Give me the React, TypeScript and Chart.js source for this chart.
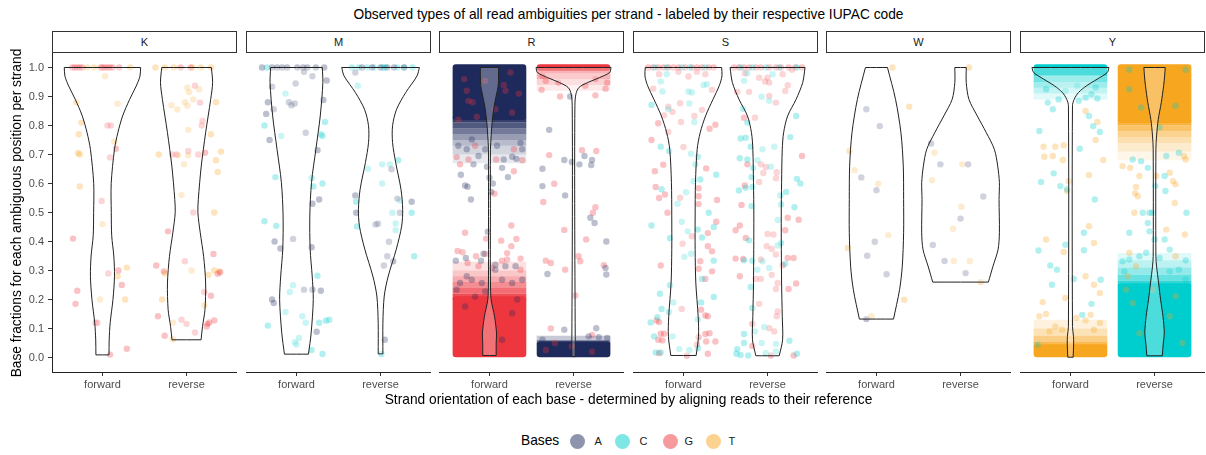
import React, { useEffect, useRef } from 'react';
import { Chart, registerables } from 'chart.js';
Chart.register(...registerables);

type Pt = [number, number];
type Band = [number, number, number]; // low, high, density (0..1)

// ---------------- text ----------------
const TITLE = 'Observed types of all read ambiguities per strand - labeled by their respective IUPAC code';
const X_TITLE = 'Strand orientation of each base - determined by aligning reads to their reference';
const Y_TITLE = 'Base fractions for each ambiguous position per strand';
const LEGEND_TITLE = 'Bases';
const FACETS = ['K', 'M', 'R', 'S', 'W', 'Y'];
const STRANDS = ['forward', 'reverse'];
const Y_TICKS = [0, 0.1, 0.2, 0.3, 0.4, 0.5, 0.6, 0.7, 0.8, 0.9, 1.0];
const BASES = ['A', 'C', 'G', 'T'];
const BASE_RGB: Record<string, [number, number, number]> = {
  A: [31, 42, 92],
  C: [0, 205, 205],
  G: [238, 54, 62],
  T: [247, 166, 32],
};

// ---------------- jittered points [x, fraction] ----------------
const K_FWD_G: Pt[] = [[0.64,1],[0.67,1],[0.70,1],[0.73,1],[0.76,1],[0.98,1],[1.0,1],[1.03,1],[1.06,1],[1.09,1],[1.12,1],[1.20,1],[1.06,0.80],[1.10,0.80],[1.16,0.72],[1.09,0.69],[0.99,0.54],[0.65,0.41],[1.19,0.30],[1.07,0.29],[1.23,0.25],[0.70,0.23],[0.68,0.185],[0.92,0.12],[0.94,0.12],[1.29,0.03],[1.09,0.01]];
const K_FWD_T: Pt[] = [[0.82,1],[0.90,1],[1.33,1],[1.03,0.97],[0.69,0.88],[1.18,0.875],[0.75,0.81],[0.72,0.77],[1.14,0.745],[0.71,0.705],[0.73,0.70],[0.73,0.59],[1.00,0.46],[1.29,0.31],[1.18,0.28],[0.97,0.20],[1.27,0.20]];
const K_REV_G: Pt[] = [[1.93,1],[2.05,1],[2.10,0.937],[2.16,0.879],[2.19,0.816],[2.18,0.80],[1.83,0.70],[1.88,0.70],[2.14,0.70],[2.22,0.706],[2.02,0.712],[2.08,0.50],[1.78,0.435],[2.32,0.357],[1.64,0.317],[1.98,0.332],[1.73,0.297],[2.37,0.289],[2.40,0.294],[2.21,0.226],[2.29,0.213],[1.66,0.142],[1.94,0.13],[2.0,0.116],[2.25,0.116],[2.27,0.121],[2.24,0.107],[2.33,0.128],[1.74,0.075],[2.10,0.086]];
const K_REV_T: Pt[] = [[1.63,1],[1.74,1],[1.85,1],[2.07,1],[2.17,1],[2.29,1],[2.01,0.93],[2.03,0.915],[2.15,0.925],[1.98,0.88],[2.08,0.89],[1.82,0.87],[1.89,0.855],[2.01,0.868],[2.35,0.88],[2.02,0.785],[2.29,0.77],[1.67,0.70],[1.90,0.697],[2.02,0.697],[2.41,0.71],[2.35,0.68],[2.37,0.64],[1.97,0.666],[1.94,0.56],[2.33,0.50],[1.74,0.29],[2.06,0.30],[2.26,0.285],[2.33,0.30],[2.39,0.297],[1.71,0.20],[2.21,0.18],[1.84,0.12],[1.84,0.063]];

const M_FWD_A: Pt[] = [[0.59,1],[0.71,1],[0.77,1],[0.83,1],[0.89,1],[1.01,1],[1.08,1],[1.13,1],[1.23,1],[1.33,1],[1.09,0.985],[1.19,0.97],[1.36,0.955],[0.99,0.945],[0.71,0.934],[0.91,0.88],[0.94,0.87],[0.98,0.876],[1.32,0.888],[0.66,0.88],[0.73,0.856],[0.64,0.84],[1.11,0.775],[0.68,0.75],[1.25,0.715],[1.27,0.545],[1.19,0.53],[0.96,0.409],[0.74,0.40],[0.81,0.376],[1.18,0.38],[1.09,0.234],[1.19,0.234],[1.29,0.23],[0.71,0.20],[0.73,0.188],[1.24,0.089]];
const M_FWD_C: Pt[] = [[0.65,1],[0.87,0.91],[1.34,0.812],[0.62,0.80],[0.82,0.764],[1.29,0.77],[1.31,0.764],[0.75,0.622],[1.18,0.619],[1.31,0.60],[1.20,0.59],[0.62,0.47],[0.76,0.454],[1.25,0.282],[0.96,0.249],[0.92,0.226],[0.87,0.157],[1.07,0.142],[1.11,0.12],[1.27,0.12],[1.35,0.127],[1.39,0.13],[0.66,0.11],[1.03,0.067],[0.98,0.053],[1.0,0.045],[1.18,0.026],[1.31,0.012]];
const M_REV_A: Pt[] = [[1.78,1],[1.90,1],[2.0,1],[2.08,1],[2.16,1],[2.28,1],[1.70,0.983],[2.13,0.649],[1.70,0.559],[2.2,0.548],[2.37,0.537],[1.71,0.499],[2.23,0.499],[1.94,0.459],[1.97,0.461],[2.10,0.399],[2.08,0.349],[2.15,0.332],[2.04,0.317],[2.05,0.061]];
const M_REV_C: Pt[] = [[1.66,1],[1.74,1],[1.84,1],[1.92,1],[2.02,1],[2.04,1],[2.06,1],[2.2,1],[2.28,1],[2.38,1],[1.73,0.937],[2.21,0.68],[2.02,0.666],[2.11,0.666],[1.85,0.651],[2.02,0.60],[1.71,0.537],[2.23,0.541],[2.14,0.499],[2.37,0.499],[2.18,0.462],[1.72,0.452],[2.18,0.439],[2.40,0.349],[2.01,0.012]];

const R_FWD_A: Pt[] = [[0.66,0.63],[0.71,0.593],[0.74,0.589],[0.78,0.545],[1.0,0.62],[1.04,0.60],[1.02,0.571],[0.97,0.658],[1.15,0.654],[1.22,0.622],[0.81,0.666],[1.32,0.685],[1.39,0.718],[0.87,0.695],[1.17,0.683],[1.27,0.692],[0.98,0.434],[0.72,0.343],[0.60,0.334],[0.90,0.334],[0.93,0.358],[1.07,0.32],[1.19,0.315],[1.31,0.315],[0.73,0.718],[0.63,0.73],[1.09,0.73],[0.95,0.718],[1.37,0.74],[0.79,0.752],[0.73,0.28],[0.65,0.257],[0.79,0.268],[0.91,0.257],[1.07,0.303],[1.15,0.268],[1.27,0.257],[1.39,0.268],[0.83,0.21],[1.33,0.2],[0.71,0.176],[1.27,0.153],[1.15,0.061],[0.61,0.234],[0.95,0.228]];
const R_FWD_G: Pt[] = [[0.70,0.96],[0.73,0.92],[0.80,0.88],[1.17,0.94],[1.19,0.92],[1.35,0.91],[0.85,0.83],[1.27,0.845],[0.63,0.82],[1.07,0.856],[0.95,0.954],[1.25,0.983],[0.75,0.885],[1.06,0.565],[1.29,0.642],[1.39,0.68],[0.65,0.666],[0.61,0.691],[0.75,0.683],[1.08,0.683],[1.26,0.455],[0.71,0.43],[0.96,0.41],[1.32,0.409],[1.14,0.403],[0.62,0.367],[0.68,0.363],[1.26,0.384],[1.21,0.36],[0.84,0.349],[0.95,0.357],[1.15,0.334],[1.21,0.338],[1.37,0.341],[0.74,0.326],[0.87,0.315],[1.03,0.309],[1.37,0.303],[1.29,0.718],[0.83,0.73]];
const R_REV_A: Pt[] = [[1.96,0.90],[1.71,0.785],[1.89,0.681],[1.98,0.674],[2.07,0.666],[2.13,0.695],[2.22,0.681],[2.21,0.664],[1.63,0.651],[1.63,0.591],[1.90,0.559],[2.20,0.482],[2.25,0.464],[2.39,0.40],[1.69,0.288],[2.38,0.309],[2.39,0.286],[1.89,0.096],[2.27,0.101],[1.63,0.061],[2.18,0.073],[2.30,0.07],[2.40,0.067]];
const R_REV_G: Pt[] = [[1.84,0.90],[2.26,0.904],[1.71,0.698],[2.10,0.715],[2.27,0.712],[1.77,0.599],[1.64,0.536],[2.26,0.518],[2.23,0.499],[1.89,0.44],[2.15,0.407],[2.06,0.349],[2.08,0.332],[1.67,0.334],[1.73,0.326],[1.90,0.303],[2.36,0.318],[2.02,0.214],[1.73,0.10],[2.22,0.078],[1.63,0.971],[1.67,0.954],[2.40,0.948],[2.26,0.96],[1.82,0.948],[2.14,0.937],[1.62,0.923],[2.38,0.927],[1.67,0.026],[1.98,0.038],[2.22,0.02],[1.78,0.05]];

const S_FWD_G: Pt[] = [[0.58,1],[0.64,1],[0.70,1],[0.76,1],[0.82,1],[0.88,1],[0.94,1],[1.02,1],[1.10,1],[1.16,1],[1.22,1],[1.30,1],[1.36,1],[0.71,0.977],[0.94,0.985],[1.06,0.969],[1.16,0.985],[1.26,0.977],[0.64,0.927],[1.34,0.923],[0.96,0.877],[0.82,0.865],[0.87,0.847],[0.77,0.835],[0.70,0.808],[1.22,0.854],[1.13,0.833],[0.97,0.812],[1.31,0.789],[1.38,0.803],[0.82,0.778],[0.62,0.75],[1.0,0.726],[0.76,0.665],[0.66,0.642],[1.27,0.652],[0.67,0.588],[0.71,0.55],[0.78,0.562],[1.18,0.584],[1.18,0.556],[1.18,0.529],[0.96,0.551],[0.81,0.499],[1.40,0.543],[1.39,0.468],[1.29,0.429],[1.34,0.366],[1.29,0.384],[1.20,0.332],[1.18,0.306],[1.34,0.297],[1.26,0.271],[1.10,0.418],[0.99,0.392],[0.73,0.317],[0.98,0.167],[0.68,0.128],[0.71,0.122],[1.26,0.145],[1.29,0.142],[1.21,0.165],[0.73,0.082],[0.77,0.082],[0.70,0.061],[0.75,0.059],[1.18,0.07],[1.26,0.081],[1.31,0.084],[1.27,0.055],[1.38,0.055],[0.71,0.015],[1.04,0.006],[1.29,0.013],[1.16,0.045]];
const S_FWD_C: Pt[] = [[0.66,1],[0.80,1],[0.98,1],[1.08,1],[1.26,1],[0.80,0.977],[0.73,0.952],[0.75,0.917],[1.06,0.917],[1.10,0.914],[1.24,0.94],[1.28,0.942],[0.62,0.871],[1.07,0.876],[0.82,0.856],[1.13,0.812],[0.73,0.727],[0.83,0.712],[1.09,0.703],[1.17,0.692],[1.14,0.666],[1.39,0.63],[1.20,0.614],[1.12,0.608],[0.74,0.58],[1.03,0.57],[0.93,0.53],[1.30,0.499],[0.62,0.455],[0.98,0.468],[1.05,0.435],[1.17,0.441],[0.84,0.411],[1.22,0.414],[1.36,0.45],[1.09,0.358],[1.01,0.347],[1.36,0.334],[1.22,0.271],[0.84,0.249],[1.36,0.209],[0.72,0.22],[0.88,0.19],[0.74,0.167],[0.61,0.121],[0.69,0.139],[1.17,0.132],[1.21,0.19],[0.83,0.157],[0.87,0.073],[0.65,0.073],[0.67,0.017],[0.73,0.017],[0.95,0.029],[1.07,0.026],[1.17,0.032]];
const S_REV_G: Pt[] = [[1.60,1],[1.66,1],[1.72,1],[1.78,1],[1.86,1],[1.92,1],[2.02,1],[2.10,1],[2.16,1],[2.25,1],[2.33,1],[2.41,1],[1.73,0.98],[1.90,0.965],[2.0,0.965],[1.97,0.952],[2.02,0.948],[2.18,0.977],[2.24,0.939],[2.29,0.992],[2.21,0.919],[1.64,0.916],[1.78,0.916],[2.02,0.902],[2.10,0.879],[1.72,0.827],[1.85,0.827],[2.41,0.695],[1.76,0.666],[1.92,0.666],[1.98,0.657],[1.95,0.636],[2.11,0.639],[2.10,0.618],[1.90,0.605],[1.73,0.593],[1.69,0.526],[2.24,0.482],[2.37,0.475],[1.67,0.455],[1.62,0.439],[1.74,0.412],[2.0,0.426],[2.07,0.424],[2.21,0.439],[1.99,0.384],[2.05,0.374],[2.24,0.343],[2.31,0.343],[1.62,0.341],[1.71,0.34],[1.92,0.338],[2.18,0.318],[2.10,0.355],[1.67,0.28],[1.86,0.271],[1.92,0.271],[2.05,0.285],[2.12,0.257],[2.25,0.236],[2.34,0.255],[2.10,0.236],[1.90,0.185],[1.82,0.116],[2.12,0.159],[2.11,0.142],[2.02,0.101],[2.08,0.09],[1.82,0.04],[2.04,0.007],[2.31,0.007]];
const S_REV_C: Pt[] = [[1.68,1],[1.82,1],[1.98,1],[2.14,1],[2.35,1],[1.72,0.954],[1.76,0.98],[2.06,0.977],[2.02,0.885],[1.71,0.858],[1.93,0.899],[2.34,0.833],[1.76,0.81],[1.74,0.758],[1.68,0.755],[2.27,0.76],[1.80,0.727],[1.94,0.718],[2.08,0.727],[1.67,0.687],[1.76,0.683],[1.88,0.68],[1.83,0.654],[2.04,0.658],[1.81,0.622],[2.35,0.616],[2.39,0.60],[1.74,0.585],[1.66,0.576],[1.82,0.588],[1.81,0.522],[2.15,0.559],[2.22,0.571],[2.16,0.528],[2.32,0.518],[2.12,0.474],[1.78,0.404],[2.12,0.386],[2.16,0.395],[1.72,0.335],[1.94,0.332],[1.82,0.334],[1.88,0.303],[2.02,0.309],[1.80,0.243],[2.21,0.323],[1.82,0.171],[1.85,0.09],[1.72,0.081],[1.96,0.105],[2.26,0.058],[1.93,0.05],[2.10,0.047],[1.72,0.05],[1.64,0.029],[1.63,0.013],[1.68,0.009],[1.77,0.007],[1.98,0.015],[2.10,0.021],[2.35,0.013]];

const W_FWD_A: Pt[] = [[0.88,0.856],[1.04,0.798],[0.82,0.621],[1.0,0.577],[0.98,0.399],[0.89,0.351],[1.12,0.287],[0.88,0.1325]];
const W_FWD_T: Pt[] = [[1.19,1.0],[1.39,0.865],[0.68,0.712],[0.74,0.646],[1.02,0.599],[1.14,0.422],[0.66,0.378],[1.33,0.199],[0.94,0.142]];
const W_REV_A: Pt[] = [[1.65,0.738],[1.76,0.666],[2.09,0.666],[2.27,0.555],[2.0,0.479],[1.67,0.388],[1.81,0.333],[2.06,0.291]];
const W_REV_T: Pt[] = [[2.10,1.0],[1.69,0.706],[2.02,0.666],[1.66,0.611],[2.01,0.52],[1.91,0.444],[1.92,0.333],[2.11,0.333],[2.24,0.26]];

const Y_FWD_C: Pt[] = [[0.73,0.879],[0.79,0.856],[0.86,0.89],[1.10,0.885],[1.18,0.896],[1.25,0.908],[1.32,0.893],[1.22,0.833],[1.27,0.798],[1.35,0.778],[0.63,0.781],[1.11,0.72],[0.80,0.635],[0.65,0.605],[0.88,0.591],[0.96,0.58],[1.29,0.545],[1.16,0.43],[0.62,0.369],[0.94,0.389],[0.76,0.317],[0.84,0.303],[1.04,0.271],[0.78,0.251],[1.16,0.37],[1.36,0.268],[1.25,0.185],[1.14,0.147],[0.61,0.044],[0.71,0.925],[1.30,0.931],[0.94,0.919],[1.08,0.937]];
const Y_FWD_T: Pt[] = [[1.18,0.85],[1.32,0.812],[1.30,0.75],[0.68,0.727],[0.82,0.727],[0.92,0.732],[0.69,0.692],[0.79,0.695],[0.91,0.681],[1.39,0.681],[1.22,0.629],[0.98,0.608],[0.96,0.574],[1.22,0.453],[0.71,0.407],[1.28,0.395],[0.92,0.364],[1.18,0.28],[0.94,0.205],[1.28,0.251],[0.67,0.191],[1.35,0.222],[0.71,0.15],[0.63,0.142],[1.07,0.136],[1.35,0.119],[1.24,0.147],[1.18,0.128],[0.82,0.107],[0.75,0.09],[0.90,0.096],[1.28,0.096]];
const Y_REV_C: Pt[] = [[1.84,0.677],[1.74,0.683],[1.92,0.654],[2.12,0.626],[2.01,0.591],[2.13,0.574],[1.94,0.499],[1.86,0.499],[1.97,0.499],[2.38,0.499],[1.92,0.464],[1.94,0.435],[1.70,0.43],[2.12,0.407],[2.0,0.407],[1.62,0.332],[1.70,0.338],[1.82,0.349],[1.90,0.361],[2.06,0.343],[2.18,0.372],[2.37,0.335],[2.29,0.303],[2.18,0.297],[2.37,0.268],[1.64,0.297],[2.14,0.695],[2.29,0.706],[1.70,0.992],[2.37,0.992],[1.84,0.862],[2.25,0.868],[2.06,0.793],[1.70,0.925]];
const Y_REV_T: Pt[] = [[1.62,0.66],[1.71,0.654],[1.82,0.626],[1.78,0.588],[1.77,0.566],[1.80,0.556],[2.37,0.683],[2.35,0.695],[2.25,0.597],[2.22,0.608],[2.18,0.637],[2.24,0.533],[1.76,0.499],[2.36,0.424],[1.70,0.361],[1.78,0.315],[1.68,0.28],[2.25,0.349],[2.14,0.441],[2.02,0.626],[1.66,0.234],[1.74,0.188],[2.25,0.211],[2.18,0.142],[1.82,0.084],[2.33,0.05],[1.98,0.234]];

// ---------------- dense point clouds [low, high, density] ----------------
const R_FWD_A_BANDS: Band[] = [[0.83,1.0,1],[0.81,0.83,0.9],[0.79,0.81,0.78],[0.77,0.79,0.62],[0.75,0.77,0.46],[0.73,0.75,0.32],[0.70,0.73,0.2],[0.67,0.70,0.1]];
const R_FWD_G_BANDS: Band[] = [[0.012,0.2,1],[0.2,0.22,0.88],[0.22,0.24,0.72],[0.24,0.26,0.56],[0.26,0.28,0.42],[0.28,0.30,0.28],[0.30,0.33,0.15]];
const R_REV_G_BANDS: Band[] = [[1.0,1.0,1],[0.98,0.995,0.55],[0.96,0.98,0.38],[0.94,0.96,0.22],[0.92,0.94,0.1]];
const R_REV_A_BANDS: Band[] = [[0.012,0.045,1],[0.045,0.06,0.55],[0.06,0.075,0.25]];
const Y_FWD_C_BANDS: Band[] = [[0.985,1.0,1],[0.97,0.985,0.75],[0.95,0.97,0.55],[0.93,0.95,0.38],[0.91,0.93,0.24],[0.89,0.91,0.12]];
const Y_FWD_T_BANDS: Band[] = [[0.012,0.035,1],[0.035,0.055,0.78],[0.055,0.075,0.55],[0.075,0.1,0.32],[0.1,0.13,0.15]];
const Y_REV_T_BANDS: Band[] = [[0.82,1.0,1],[0.80,0.82,0.85],[0.78,0.80,0.68],[0.76,0.78,0.5],[0.74,0.76,0.36],[0.71,0.74,0.22],[0.68,0.71,0.1]];
const Y_REV_C_BANDS: Band[] = [[0.012,0.245,1],[0.245,0.265,0.8],[0.265,0.285,0.6],[0.285,0.31,0.42],[0.31,0.335,0.26],[0.335,0.36,0.12]];

// ---------------- violins: fraction levels (top→bottom) and half widths ----------------
const K_FWD_VY = [1.0, 0.97, 0.935, 0.89, 0.833, 0.775, 0.718, 0.60, 0.50, 0.42, 0.35, 0.28, 0.20, 0.12, 0.06, 0.009];
const K_FWD_VW = [0.454, 0.446, 0.40, 0.323, 0.24, 0.183, 0.143, 0.104, 0.105, 0.11, 0.135, 0.143, 0.125, 0.092, 0.08, 0.078];
const K_REV_VY = [1.0, 0.948, 0.89, 0.775, 0.66, 0.545, 0.499, 0.43, 0.349, 0.257, 0.165, 0.107, 0.061];
const K_REV_VW = [0.295, 0.31, 0.287, 0.227, 0.175, 0.14, 0.135, 0.163, 0.203, 0.227, 0.219, 0.19, 0.173];
const M_FWD_VY = [1.0, 0.948, 0.833, 0.718, 0.603, 0.488, 0.373, 0.281, 0.2, 0.085, 0.0115];
const M_FWD_VW = [0.307, 0.314, 0.283, 0.231, 0.179, 0.159, 0.163, 0.187, 0.2, 0.175, 0.143];
const M_REV_VY = [1.0, 0.971, 0.914, 0.856, 0.799, 0.741, 0.672, 0.58, 0.511, 0.453, 0.373, 0.281, 0.212, 0.118, 0.0127];
const M_REV_VW = [0.462, 0.434, 0.30, 0.191, 0.143, 0.143, 0.18, 0.243, 0.263, 0.251, 0.187, 0.092, 0.044, 0.028, 0.028];
const R_FWD_VY = [1.0, 0.971, 0.937, 0.902, 0.867, 0.833, 0.798, 0.764, 0.718, 0.487, 0.257, 0.199, 0.142, 0.084, 0.05, 0.007];
const R_FWD_VW = [0.108, 0.108, 0.104, 0.08, 0.056, 0.04, 0.028, 0.02, 0.012, 0.011, 0.012, 0.02, 0.06, 0.084, 0.08, 0.08];
const R_REV_VY = [1.0, 0.983, 0.965, 0.948, 0.931, 0.908, 0.868, 0.487, 0.073, 0.038, 0.003];
const R_REV_VW = [0.446, 0.43, 0.307, 0.167, 0.064, 0.028, 0.016, 0.014, 0.02, 0.02, 0.02];
const S_FWD_VY = [1.0, 0.971, 0.937, 0.89, 0.833, 0.775, 0.718, 0.603, 0.488, 0.372, 0.257, 0.142, 0.073, 0.007];
const S_FWD_VW = [0.454, 0.458, 0.426, 0.351, 0.263, 0.199, 0.163, 0.143, 0.139, 0.139, 0.147, 0.175, 0.179, 0.151];
const S_REV_VY = [1.0, 0.948, 0.89, 0.833, 0.775, 0.718, 0.603, 0.488, 0.257, 0.142, 0.061, 0.006];
const S_REV_VW = [0.446, 0.418, 0.339, 0.239, 0.191, 0.175, 0.167, 0.163, 0.167, 0.175, 0.179, 0.139];
const W_FWD_VY = [1.0, 0.89, 0.775, 0.66, 0.545, 0.43, 0.315, 0.234, 0.1325];
const W_FWD_VW = [0.131, 0.227, 0.291, 0.319, 0.323, 0.323, 0.307, 0.275, 0.203];
const W_REV_VY = [1.0, 0.948, 0.89, 0.833, 0.775, 0.718, 0.66, 0.603, 0.545, 0.43, 0.372, 0.315, 0.26];
const W_REV_VW = [0.068, 0.068, 0.1, 0.199, 0.307, 0.402, 0.442, 0.462, 0.458, 0.462, 0.446, 0.386, 0.331];
const Y_FWD_VY = [1.0, 0.983, 0.96, 0.937, 0.914, 0.89, 0.868, 0.107, 0.073, 0.05, 0.001];
const Y_FWD_VW = [0.458, 0.438, 0.319, 0.191, 0.096, 0.044, 0.024, 0.024, 0.036, 0.038, 0.032];
const Y_REV_VY = [1.0, 0.971, 0.937, 0.879, 0.821, 0.764, 0.718, 0.349, 0.315, 0.257, 0.199, 0.142, 0.084, 0.05, 0.006];
const Y_REV_VW = [0.127, 0.12, 0.108, 0.08, 0.044, 0.024, 0.016, 0.016, 0.024, 0.048, 0.072, 0.1, 0.116, 0.104, 0.092];

// ---------------- panel specs ----------------
type Violin = { strand: number; vy: number[]; vw: number[] };
type Cloud = { strand: number; base: string; bands: Band[] };
type PanelSpec = { points: Record<string, Pt[]>; violins: Violin[]; clouds: Cloud[] };

const PANELS: PanelSpec[] = [
  { points: { G: [...K_FWD_G, ...K_REV_G], T: [...K_FWD_T, ...K_REV_T] },
    violins: [{ strand: 1, vy: K_FWD_VY, vw: K_FWD_VW }, { strand: 2, vy: K_REV_VY, vw: K_REV_VW }], clouds: [] },
  { points: { A: [...M_FWD_A, ...M_REV_A], C: [...M_FWD_C, ...M_REV_C] },
    violins: [{ strand: 1, vy: M_FWD_VY, vw: M_FWD_VW }, { strand: 2, vy: M_REV_VY, vw: M_REV_VW }], clouds: [] },
  { points: { A: [...R_FWD_A, ...R_REV_A], G: [...R_FWD_G, ...R_REV_G] },
    violins: [{ strand: 1, vy: R_FWD_VY, vw: R_FWD_VW }, { strand: 2, vy: R_REV_VY, vw: R_REV_VW }],
    clouds: [{ strand: 1, base: 'A', bands: R_FWD_A_BANDS }, { strand: 1, base: 'G', bands: R_FWD_G_BANDS },
             { strand: 2, base: 'G', bands: R_REV_G_BANDS }, { strand: 2, base: 'A', bands: R_REV_A_BANDS }] },
  { points: { C: [...S_FWD_C, ...S_REV_C], G: [...S_FWD_G, ...S_REV_G] },
    violins: [{ strand: 1, vy: S_FWD_VY, vw: S_FWD_VW }, { strand: 2, vy: S_REV_VY, vw: S_REV_VW }], clouds: [] },
  { points: { A: [...W_FWD_A, ...W_REV_A], T: [...W_FWD_T, ...W_REV_T] },
    violins: [{ strand: 1, vy: W_FWD_VY, vw: W_FWD_VW }, { strand: 2, vy: W_REV_VY, vw: W_REV_VW }], clouds: [] },
  { points: { T: [...Y_FWD_T, ...Y_REV_T], C: [...Y_FWD_C, ...Y_REV_C] },
    violins: [{ strand: 1, vy: Y_FWD_VY, vw: Y_FWD_VW }, { strand: 2, vy: Y_REV_VY, vw: Y_REV_VW }],
    clouds: [{ strand: 1, base: 'C', bands: Y_FWD_C_BANDS }, { strand: 1, base: 'T', bands: Y_FWD_T_BANDS },
             { strand: 2, base: 'T', bands: Y_REV_T_BANDS }, { strand: 2, base: 'C', bands: Y_REV_C_BANDS }] },
];

// ---------------- layout / style constants ----------------
const FONT = '"Liberation Sans", Arial, Helvetica, sans-serif';
const TITLE_SIZE = 13.75;
const FIRST_LEFT = 52;
const PANEL_STEP = 193.5;
const PANEL_W = 185;
const PANEL_TOP = 53;
const PLOT_H = 319;
const X_AXIS_H = 26;
const Y_AXIS_W = 52;
const POINT_R = 3.2;
const JITTER = 0.4;
const POINT_R_UNITS = 0.038;
const POINT_ALPHA = 0.3;

const rgba = (b: string, a: number) => {
  const [r, g, bl] = BASE_RGB[b];
  return `rgba(${r},${g},${bl},${a})`;
};

function violinDataset(v: Violin) {
  const n = v.vy.length;
  const right = v.vy.map((y, i) => ({ x: v.strand + v.vw[i], y }));
  const left = v.vy.map((y, i) => ({ x: v.strand - v.vw[i], y }));
  const data: { x: number; y: number }[] = [];
  data.push(right[n - 1]);
  for (let i = n - 1; i >= 0; i--) data.push(right[i]);
  data.push(right[0]);
  data.push(left[0]);
  for (let i = 0; i < n; i++) data.push(left[i]);
  data.push(left[n - 1]);
  data.push(right[n - 1]);
  data.push(right[n - 1]);
  return {
    data, showLine: true, fill: 'shape', tension: 0.3,
    borderColor: '#222222', borderWidth: 1, backgroundColor: 'rgba(255,255,255,0.3)',
    pointRadius: 0, pointHoverRadius: 0,
  };
}

function cloudDatasets(c: Cloud) {
  const [r, g, b] = BASE_RGB[c.base];
  return [...c.bands].sort((p, q) => q[2] - p[2]).map(([lo, hi, d]) => {
    const solid = d >= 1;
    const hw = solid ? JITTER : JITTER + POINT_R_UNITS;
    const data = [
      { x: c.strand - hw, y: lo }, { x: c.strand + hw, y: lo },
      { x: c.strand + hw, y: hi }, { x: c.strand - hw, y: hi }, { x: c.strand - hw, y: lo },
    ];
    return {
      data, showLine: true, fill: 'shape', tension: 0,
      backgroundColor: `rgba(${r},${g},${b},${d})`,
      borderColor: solid ? `rgb(${r},${g},${b})` : 'rgba(0,0,0,0)',
      borderWidth: solid ? POINT_R * 2 : 0,
      borderJoinStyle: 'round', borderCapStyle: 'round',
      pointRadius: 0, pointHoverRadius: 0,
    };
  });
}

function buildDatasets(p: PanelSpec) {
  const ds: any[] = [];
  p.violins.forEach((v) => ds.push(violinDataset(v)));
  BASES.forEach((b) => {
    const pts = p.points[b];
    if (!pts) return;
    ds.push({
      data: pts.map(([x, y]) => ({ x, y })),
      showLine: false, fill: false, borderWidth: 0,
      pointRadius: POINT_R, pointHoverRadius: POINT_R,
      pointBackgroundColor: rgba(b, POINT_ALPHA), pointBorderWidth: 0,
      pointBorderColor: 'rgba(0,0,0,0)',
    });
  });
  const solids: any[] = [];
  const partials: any[] = [];
  p.clouds.forEach((c) => {
    cloudDatasets(c).forEach((d: any) => (d.borderWidth > 0 ? solids : partials).push(d));
  });
  return [...ds, ...solids, ...partials];
}

function Panel({ spec, index }: { spec: PanelSpec; index: number }) {
  const ref = useRef<HTMLCanvasElement>(null);
  const first = index === 0;
  const left = Math.round(FIRST_LEFT + index * PANEL_STEP);
  const canvasLeft = first ? left - Y_AXIS_W : left;
  const width = first ? PANEL_W + Y_AXIS_W : PANEL_W;
  useEffect(() => {
    const chart = new Chart(ref.current as HTMLCanvasElement, {
      type: 'line',
      data: { datasets: buildDatasets(spec) },
      options: {
        responsive: false,
        animation: false,
        events: [],
        layout: { autoPadding: false, padding: 0 },
        plugins: { legend: { display: false }, tooltip: { enabled: false }, title: { display: false } },
        scales: {
          x: {
            type: 'linear', min: 0.4, max: 2.6,
            afterBuildTicks: (s: any) => { s.ticks = STRANDS.map((_, i) => ({ value: i + 1 })); },
            afterFit: (s: any) => { s.height = X_AXIS_H; s.paddingLeft = 0; s.paddingRight = 0; s.paddingTop = 0; s.paddingBottom = 0; },
            ticks: {
              callback: (_v: any, i: number) => STRANDS[i],
              color: '#4d4d4d', font: { size: 11, family: FONT }, padding: 2,
              maxRotation: 0, autoSkip: false,
            },
            grid: { drawOnChartArea: false, drawTicks: true, tickLength: 4, tickColor: '#333333', tickWidth: 1 },
            border: { display: true, color: '#222222', width: 1 },
          },
          y: {
            type: 'linear', min: -0.05, max: 1.05, display: first,
            afterBuildTicks: (s: any) => { s.ticks = Y_TICKS.map((v) => ({ value: v })); },
            afterFit: (s: any) => { s.width = first ? Y_AXIS_W : 0; s.paddingTop = 0; s.paddingBottom = 0; s.paddingLeft = 0; s.paddingRight = 0; },
            ticks: {
              callback: (v: any) => Number(v).toFixed(1),
              color: '#4d4d4d', font: { size: 11, family: FONT }, padding: 4,
            },
            grid: { drawOnChartArea: false, drawTicks: true, tickLength: 4, tickColor: '#333333', tickWidth: 1 },
            border: { display: true, color: '#222222', width: 1 },
          },
        },
      } as any,
    });
    return () => chart.destroy();
  }, []);
  return (
    <>
      <div style={{
        position: 'absolute', left, top: 31, width: PANEL_W, height: 22, boxSizing: 'border-box',
        border: '1.5px solid #333', background: '#fff', display: 'flex', alignItems: 'center',
        justifyContent: 'center', fontSize: 11, color: '#1a1a1a', fontFamily: FONT,
      }}>{FACETS[index]}</div>
      <canvas ref={ref} width={width} height={PLOT_H + X_AXIS_H}
        style={{ position: 'absolute', left: canvasLeft, top: PANEL_TOP, width, height: PLOT_H + X_AXIS_H }} />
    </>
  );
}

const LEGEND_X = { title: 521, circles: [569.5, 614.5, 662.5, 705.5], letters: [594.5, 639.5, 684.5, 728.5] };

export default function App() {
  const plotLeft = FIRST_LEFT;
  const plotRight = Math.round(FIRST_LEFT + 5 * PANEL_STEP) + PANEL_W;
  return (
    <div style={{ position: 'absolute', left: 0, top: 0, width: 1206, height: 455, background: '#fff', fontFamily: FONT, overflow: 'hidden' }}>
      <div style={{ position: 'absolute', left: plotLeft, width: plotRight - plotLeft, top: 6.5, lineHeight: '16px', fontSize: TITLE_SIZE, textAlign: 'center', color: '#000', whiteSpace: 'nowrap' }}>{TITLE}</div>
      {PANELS.map((p, i) => <Panel key={FACETS[i]} spec={p} index={i} />)}
      <div style={{ position: 'absolute', left: plotLeft, width: plotRight - plotLeft, top: 392, lineHeight: '16px', fontSize: TITLE_SIZE, textAlign: 'center', color: '#000', whiteSpace: 'nowrap' }}>{X_TITLE}</div>
      <div style={{ position: 'absolute', left: 16.5 - 200, top: 212.5 - 8, width: 400, height: 16, lineHeight: '16px', fontSize: TITLE_SIZE, textAlign: 'center', color: '#000', whiteSpace: 'nowrap', transform: 'rotate(-90deg)' }}>{Y_TITLE}</div>
      <div style={{ position: 'absolute', left: LEGEND_X.title, top: 432.5, lineHeight: '16px', fontSize: TITLE_SIZE, color: '#000' }}>{LEGEND_TITLE}</div>
      {BASES.map((b, i) => (
        <React.Fragment key={b}>
          <div style={{ position: 'absolute', left: LEGEND_X.circles[i], top: 433.5, width: 15, height: 15, borderRadius: '50%', background: rgba(b, 0.5) }} />
          <div style={{ position: 'absolute', left: LEGEND_X.letters[i], top: 434, lineHeight: '14px', fontSize: 11, color: '#1a1a1a' }}>{b}</div>
        </React.Fragment>
      ))}
    </div>
  );
}
